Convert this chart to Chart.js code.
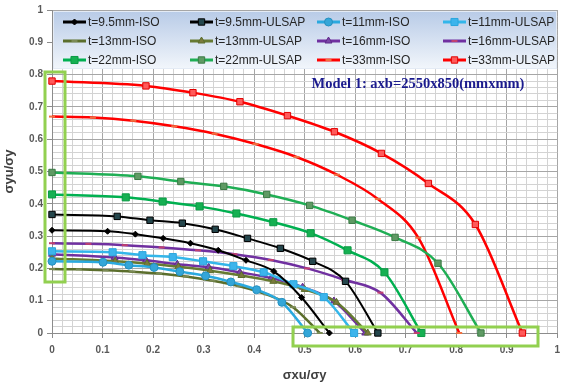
<!DOCTYPE html>
<html>
<head>
<meta charset="utf-8">
<script src="https://cdn.jsdelivr.net/npm/chart.js@4.4.1/dist/chart.umd.min.js"></script>
<style>
  html, body { margin: 0; padding: 0; background: #fff; overflow: hidden; }
  #wrap { width: 566px; height: 385px; }
</style>
</head>
<body>
<div id="wrap"><canvas id="chart" width="566" height="385"></canvas></div>
<script>
// values (x = σxu/σy, y = σyu/σy)
const iso95X = [0, 0.11, 0.165, 0.22, 0.274, 0.329, 0.384, 0.439, 0.494, 0.549];
const iso95Y = [0.318, 0.315, 0.306, 0.293, 0.278, 0.256, 0.225, 0.191, 0.11, 0];
const ulsap95X = [0, 0.129, 0.194, 0.258, 0.323, 0.387, 0.452, 0.516, 0.581, 0.645];
const ulsap95Y = [0.367, 0.361, 0.349, 0.34, 0.321, 0.293, 0.262, 0.222, 0.16, 0];

const iso11X = [0, 0.101, 0.152, 0.202, 0.253, 0.304, 0.354, 0.405, 0.455, 0.506];
const iso11Y = [0.222, 0.219, 0.21, 0.203, 0.19, 0.177, 0.158, 0.134, 0.095, 0];
const ulsap11X = [0, 0.12, 0.179, 0.239, 0.299, 0.359, 0.419, 0.478, 0.538, 0.598];
const ulsap11Y = [0.253, 0.25, 0.241, 0.235, 0.222, 0.207, 0.188, 0.151, 0.111, 0];

const iso13X = [0, 0.053, 0.106, 0.159, 0.212, 0.265, 0.318, 0.371, 0.424, 0.477, 0.53];
const iso13Y = [0.198, 0.197, 0.194, 0.19, 0.184, 0.175, 0.162, 0.145, 0.12, 0.08, 0];
const ulsap13X = [0, 0.125, 0.188, 0.25, 0.313, 0.375, 0.438, 0.5, 0.563, 0.625];
const ulsap13Y = [0.231, 0.222, 0.215, 0.205, 0.193, 0.178, 0.16, 0.135, 0.095, 0];

const iso16X = [0, 0.124, 0.186, 0.248, 0.31, 0.372, 0.434, 0.496, 0.558, 0.62];
const iso16Y = [0.244, 0.234, 0.225, 0.213, 0.204, 0.188, 0.17, 0.142, 0.099, 0];
const ulsap16X = [0, 0.072, 0.144, 0.217, 0.289, 0.361, 0.433, 0.505, 0.578, 0.65, 0.722];
const ulsap16Y = [0.278, 0.276, 0.272, 0.265, 0.256, 0.244, 0.226, 0.2, 0.165, 0.125, 0];

const iso22X = [0, 0.146, 0.219, 0.292, 0.365, 0.438, 0.512, 0.585, 0.658, 0.731];
const iso22Y = [0.429, 0.42, 0.407, 0.392, 0.37, 0.343, 0.309, 0.256, 0.188, 0];
const ulsap22X = [0, 0.17, 0.255, 0.34, 0.425, 0.51, 0.594, 0.679, 0.764, 0.849];
const ulsap22Y = [0.497, 0.485, 0.469, 0.454, 0.429, 0.395, 0.349, 0.296, 0.216, 0];

const iso33X = [0, 0.081, 0.161, 0.242, 0.322, 0.403, 0.484, 0.564, 0.645, 0.725, 0.806];
const iso33Y = [0.67, 0.667, 0.657, 0.64, 0.617, 0.585, 0.545, 0.49, 0.415, 0.295, 0];
const ulsap33X = [0, 0.186, 0.279, 0.372, 0.466, 0.559, 0.652, 0.745, 0.838, 0.931];
const ulsap33Y = [0.78, 0.765, 0.744, 0.716, 0.673, 0.623, 0.556, 0.463, 0.336, 0];

const xTitle = 'σxu/σy';
const yTitle = 'σyu/σy';
const chartNote = 'Model 1: axb=2550x850(mmxmm)';

function series(label, xs, ys, line, marker, fill, edge, radius, width) {
    return {
        label: label,
        data: xs.map((x, i) => ({ x: x, y: ys[i] })),
        showLine: true,
        borderColor: line,
        borderWidth: width || 2.5,
        pointStyle: marker,
        pointRadius: radius,
        pointBackgroundColor: fill,
        pointBorderColor: edge,
        pointBorderWidth: marker === 'line' ? 2 : 1,
        cubicInterpolationMode: 'monotone',
        clip: false
    };
}

const datasets = [
    series('t=9.5mm-ISO', iso95X, iso95Y, '#000000', 'rectRot', '#000000', '#000000', 3, 2),
    series('t=9.5mm-ULSAP', ulsap95X, ulsap95Y, '#000000', 'rect', '#24464c', '#000000', 4.5, 2),
    series('t=11mm-ISO', iso11X, iso11Y, '#2aa9df', 'circle', '#34a6d8', '#2590c0', 4),
    series('t=11mm-ULSAP', ulsap11X, ulsap11Y, '#33b6ea', 'rect', '#3cb4ec', '#2aa6dd', 5),
    series('t=13mm-ISO', iso13X, iso13Y, '#5b6e2c', 'line', '#5b6e2c', '#7b8a55', 3),
    series('t=13mm-ULSAP', ulsap13X, ulsap13Y, '#667a32', 'triangle', '#7a7a3c', '#5b6e2c', 4),
    series('t=16mm-ISO', iso16X, iso16Y, '#7030a0', 'triangle', '#7a46a6', '#60288a', 4),
    series('t=16mm-ULSAP', ulsap16X, ulsap16Y, '#7030a0', 'line', '#c04070', '#c04070', 3),
    series('t=22mm-ISO', iso22X, iso22Y, '#00b050', 'rect', '#16b052', '#0a9a44', 5),
    series('t=22mm-ULSAP', ulsap22X, ulsap22Y, '#1fae54', 'rect', '#5f9a64', '#3a7a44', 4.5),
    series('t=33mm-ISO', iso33X, iso33Y, '#ff0000', 'line', '#f07040', '#f07040', 3),
    series('t=33mm-ULSAP', ulsap33X, ulsap33Y, '#ff0000', 'rect', '#ff5a5a', '#e00000', 4.5)
];

function isMajor(v) {
    return Math.abs(v * 10 - Math.round(v * 10)) < 1e-6;
}

const tickFont = { family: 'Liberation Sans', size: 10, weight: 'bold' };
const titleFont = { family: 'Liberation Sans', size: 13, weight: 'bold' };

// legend box, note and green frames drawn over the plot
const decor = {
    id: 'decor',
    afterDatasetsDraw(chart) {
        const ctx = chart.ctx;
        const area = chart.chartArea;
        ctx.save();

        // legend box
        const lx = area.left + 1, ly = area.top + 1, lw = 504, lh = 58;
        const grad = ctx.createLinearGradient(0, ly, 0, ly + lh);
        grad.addColorStop(0, '#b8cbe7');
        grad.addColorStop(1, '#f2f6fb');
        ctx.fillStyle = grad;
        ctx.fillRect(lx, ly, lw, lh);
        ctx.strokeStyle = '#e4ebf5';
        ctx.lineWidth = 1;
        ctx.strokeRect(lx + 0.5, ly + 0.5, lw - 1, lh - 1);

        const colX = [63, 190, 317, 443];
        const rowY = [22, 41, 60];
        ctx.font = '12px "Liberation Sans"';
        ctx.textBaseline = 'middle';
        ctx.textAlign = 'left';
        chart.data.datasets.forEach((ds, i) => {
            const x = colX[i % 4];
            const y = rowY[Math.floor(i / 4)];
            ctx.strokeStyle = ds.borderColor;
            ctx.lineWidth = 3;
            ctx.beginPath();
            ctx.moveTo(x, y);
            ctx.lineTo(x + 23, y);
            ctx.stroke();
            ctx.fillStyle = ds.pointBackgroundColor;
            ctx.strokeStyle = ds.pointBorderColor;
            ctx.lineWidth = ds.pointBorderWidth;
            Chart.helpers.drawPoint(ctx, {
                pointStyle: ds.pointStyle,
                radius: ds.pointRadius,
                borderWidth: ds.pointBorderWidth,
                rotation: 0
            }, x + 11.5, y);
            ctx.fillStyle = '#262626';
            ctx.fillText(ds.label, x + 25, y + 1);
        });

        // model note
        ctx.font = 'bold 14.5px "Liberation Serif"';
        ctx.fillStyle = '#1b1b8e';
        ctx.textAlign = 'center';
        ctx.fillText(chartNote, 418, 84);

        // green highlight frames
        ctx.strokeStyle = '#92d050';
        ctx.lineWidth = 3;
        ctx.strokeRect(45, 72, 20, 210);
        ctx.strokeRect(293, 327, 245, 19);
        ctx.restore();
    }
};

new Chart(document.getElementById('chart').getContext('2d'), {
    type: 'scatter',
    data: { datasets: datasets },
    options: {
        responsive: false,
        animation: false,
        layout: { padding: { top: 4, right: 0, left: 0, bottom: 0 } },
        plugins: {
            legend: { display: false },
            tooltip: { enabled: false }
        },
        scales: {
            x: {
                type: 'linear',
                min: 0,
                max: 1,
                ticks: {
                    stepSize: 0.02,
                    autoSkip: false,
                    maxRotation: 0,
                    color: '#595959',
                    font: tickFont,
                    padding: 6,
                    callback: v => isMajor(v) ? String(Math.round(v * 10) / 10) : ''
                },
                grid: {
                    color: c => isMajor(c.tick.value) ? '#a6a6a6' : '#d3d3d3',
                    tickColor: c => isMajor(c.tick.value) ? '#8c8c8c' : 'rgba(0,0,0,0)',
                    tickLength: 5
                },
                border: { color: '#8c8c8c' },
                title: {
                    display: true,
                    text: xTitle,
                    color: '#404040',
                    font: titleFont,
                    padding: { top: 0, bottom: 2 }
                },
                afterFit(scale) { scale.height = 52; }
            },
            y: {
                type: 'linear',
                min: 0,
                max: 1,
                ticks: {
                    stepSize: 0.02,
                    autoSkip: false,
                    color: '#595959',
                    font: tickFont,
                    padding: 4,
                    callback: v => isMajor(v) ? String(Math.round(v * 10) / 10) : ''
                },
                grid: {
                    color: c => isMajor(c.tick.value) ? '#a6a6a6' : '#d3d3d3',
                    tickColor: c => isMajor(c.tick.value) ? '#8c8c8c' : 'rgba(0,0,0,0)',
                    tickLength: 5
                },
                border: { color: '#8c8c8c' },
                title: {
                    display: true,
                    text: yTitle,
                    color: '#404040',
                    font: titleFont,
                    padding: { top: 2, bottom: 0 }
                },
                afterFit(scale) { scale.width = 52; }
            }
        }
    },
    plugins: [decor]
});
</script>
</body>
</html>
